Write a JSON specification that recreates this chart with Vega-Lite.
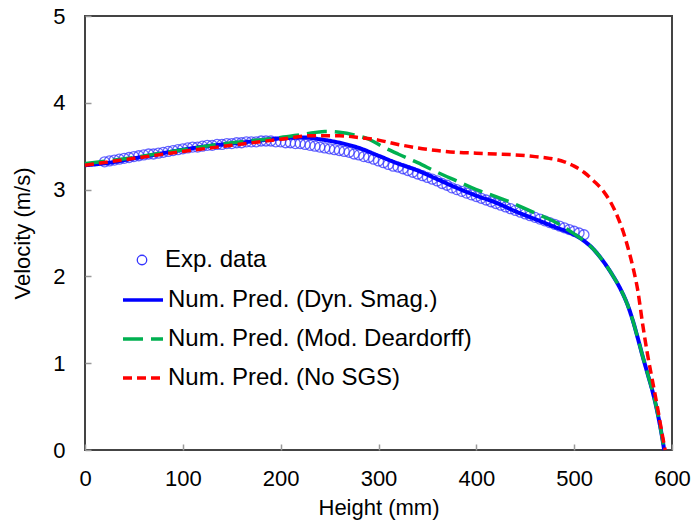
{
  "$schema": "https://vega.github.io/schema/vega-lite/v6.json",
  "width": 587,
  "height": 434,
  "autosize": {"type": "none"},
  "padding": {"left": 85, "top": 16, "right": 25, "bottom": 79},
  "background": "white",
  "config": {
    "font": "Liberation Sans",
    "view": {"stroke": "#444444", "strokeWidth": 2},
    "axis": {
      "grid": false,
      "domain": false,
      "labelFlush": false,
      "tickColor": "#999999",
      "tickWidth": 1.5,
      "tickSize": -6,
      "labelFont": "Liberation Sans",
      "labelFontSize": 22,
      "labelColor": "#000000",
      "titleFont": "Liberation Sans",
      "titleFontSize": 22,
      "titleFontWeight": "normal",
      "titleColor": "#000000"
    },
    "legend": {
      "labelFont": "Liberation Sans",
      "labelFontSize": 24,
      "labelColor": "#000000"
    }
  },
  "datasets": {
    "exp": [
      {"h": 20, "v": 3.32}, {"h": 25, "v": 3.33}, {"h": 30, "v": 3.34}, {"h": 35, "v": 3.35}, {"h": 40, "v": 3.36},
      {"h": 45, "v": 3.37}, {"h": 50, "v": 3.38}, {"h": 55, "v": 3.39}, {"h": 60, "v": 3.40}, {"h": 65, "v": 3.41},
      {"h": 70, "v": 3.41}, {"h": 75, "v": 3.42}, {"h": 80, "v": 3.43}, {"h": 85, "v": 3.44}, {"h": 90, "v": 3.45},
      {"h": 95, "v": 3.46}, {"h": 100, "v": 3.47}, {"h": 105, "v": 3.48}, {"h": 110, "v": 3.49}, {"h": 115, "v": 3.49},
      {"h": 120, "v": 3.50}, {"h": 125, "v": 3.51}, {"h": 130, "v": 3.51}, {"h": 135, "v": 3.52}, {"h": 140, "v": 3.52},
      {"h": 145, "v": 3.53}, {"h": 150, "v": 3.53}, {"h": 155, "v": 3.54}, {"h": 160, "v": 3.54}, {"h": 165, "v": 3.55},
      {"h": 170, "v": 3.55}, {"h": 175, "v": 3.55}, {"h": 180, "v": 3.56}, {"h": 185, "v": 3.56}, {"h": 190, "v": 3.56},
      {"h": 195, "v": 3.55}, {"h": 200, "v": 3.55}, {"h": 205, "v": 3.54}, {"h": 210, "v": 3.54}, {"h": 215, "v": 3.53},
      {"h": 220, "v": 3.53}, {"h": 225, "v": 3.52}, {"h": 230, "v": 3.51}, {"h": 235, "v": 3.50}, {"h": 240, "v": 3.49},
      {"h": 245, "v": 3.48}, {"h": 250, "v": 3.47}, {"h": 255, "v": 3.46}, {"h": 260, "v": 3.45}, {"h": 265, "v": 3.44},
      {"h": 270, "v": 3.43}, {"h": 275, "v": 3.41}, {"h": 280, "v": 3.40}, {"h": 285, "v": 3.38}, {"h": 290, "v": 3.37},
      {"h": 295, "v": 3.35}, {"h": 300, "v": 3.33}, {"h": 305, "v": 3.31}, {"h": 310, "v": 3.29}, {"h": 315, "v": 3.27},
      {"h": 320, "v": 3.26}, {"h": 325, "v": 3.24}, {"h": 330, "v": 3.22}, {"h": 335, "v": 3.20}, {"h": 340, "v": 3.18},
      {"h": 345, "v": 3.16}, {"h": 350, "v": 3.14}, {"h": 355, "v": 3.12}, {"h": 360, "v": 3.10}, {"h": 365, "v": 3.07},
      {"h": 370, "v": 3.05}, {"h": 375, "v": 3.02}, {"h": 380, "v": 3.00}, {"h": 385, "v": 2.98}, {"h": 390, "v": 2.96},
      {"h": 395, "v": 2.94}, {"h": 400, "v": 2.92}, {"h": 405, "v": 2.90}, {"h": 410, "v": 2.88}, {"h": 415, "v": 2.86},
      {"h": 420, "v": 2.84}, {"h": 425, "v": 2.82}, {"h": 430, "v": 2.80}, {"h": 435, "v": 2.78}, {"h": 440, "v": 2.76},
      {"h": 445, "v": 2.74}, {"h": 450, "v": 2.72}, {"h": 455, "v": 2.70}, {"h": 460, "v": 2.68}, {"h": 465, "v": 2.66},
      {"h": 470, "v": 2.64}, {"h": 475, "v": 2.62}, {"h": 480, "v": 2.60}, {"h": 485, "v": 2.58}, {"h": 490, "v": 2.56},
      {"h": 495, "v": 2.54}, {"h": 500, "v": 2.52}, {"h": 505, "v": 2.50}, {"h": 510, "v": 2.48}
    ],
    "dyn": [
      {"h": 0, "v": 3.28}, {"h": 25, "v": 3.31}, {"h": 50, "v": 3.36}, {"h": 75, "v": 3.41}, {"h": 100, "v": 3.46},
      {"h": 125, "v": 3.50}, {"h": 150, "v": 3.53}, {"h": 175, "v": 3.56}, {"h": 200, "v": 3.59}, {"h": 225, "v": 3.60},
      {"h": 240, "v": 3.58}, {"h": 260, "v": 3.54}, {"h": 280, "v": 3.48}, {"h": 300, "v": 3.39}, {"h": 320, "v": 3.30},
      {"h": 340, "v": 3.22}, {"h": 360, "v": 3.12}, {"h": 380, "v": 3.02}, {"h": 400, "v": 2.93}, {"h": 420, "v": 2.85},
      {"h": 440, "v": 2.75}, {"h": 460, "v": 2.66}, {"h": 480, "v": 2.57}, {"h": 500, "v": 2.48}, {"h": 510, "v": 2.41},
      {"h": 520, "v": 2.31}, {"h": 530, "v": 2.17}, {"h": 540, "v": 2.00}, {"h": 548, "v": 1.84}, {"h": 555, "v": 1.66},
      {"h": 560, "v": 1.49}, {"h": 565, "v": 1.29}, {"h": 570, "v": 1.08}, {"h": 575, "v": 0.88}, {"h": 580, "v": 0.68},
      {"h": 585, "v": 0.44}, {"h": 590, "v": 0.14}, {"h": 592, "v": 0}
    ],
    "mod": [
      {"h": 0, "v": 3.30}, {"h": 50, "v": 3.37}, {"h": 100, "v": 3.46}, {"h": 150, "v": 3.54}, {"h": 200, "v": 3.60},
      {"h": 225, "v": 3.64}, {"h": 245, "v": 3.67}, {"h": 260, "v": 3.66}, {"h": 275, "v": 3.63}, {"h": 290, "v": 3.58},
      {"h": 305, "v": 3.49}, {"h": 320, "v": 3.41}, {"h": 340, "v": 3.31}, {"h": 360, "v": 3.20}, {"h": 380, "v": 3.10},
      {"h": 400, "v": 3.00}, {"h": 420, "v": 2.92}, {"h": 440, "v": 2.83}, {"h": 460, "v": 2.73}, {"h": 480, "v": 2.63},
      {"h": 500, "v": 2.49}, {"h": 510, "v": 2.41}, {"h": 520, "v": 2.31}, {"h": 530, "v": 2.17}, {"h": 540, "v": 2.00},
      {"h": 548, "v": 1.84}, {"h": 555, "v": 1.66}, {"h": 560, "v": 1.49}, {"h": 565, "v": 1.29}, {"h": 570, "v": 1.08},
      {"h": 575, "v": 0.88}, {"h": 580, "v": 0.68}, {"h": 585, "v": 0.44}, {"h": 590, "v": 0.14}, {"h": 592, "v": 0}
    ],
    "nosgs": [
      {"h": 0, "v": 3.28}, {"h": 50, "v": 3.36}, {"h": 100, "v": 3.44}, {"h": 150, "v": 3.51}, {"h": 200, "v": 3.58},
      {"h": 230, "v": 3.62}, {"h": 260, "v": 3.62}, {"h": 280, "v": 3.60}, {"h": 300, "v": 3.57}, {"h": 320, "v": 3.52},
      {"h": 340, "v": 3.48}, {"h": 360, "v": 3.45}, {"h": 380, "v": 3.43}, {"h": 400, "v": 3.42}, {"h": 420, "v": 3.41},
      {"h": 440, "v": 3.40}, {"h": 460, "v": 3.38}, {"h": 475, "v": 3.36}, {"h": 490, "v": 3.32}, {"h": 500, "v": 3.27},
      {"h": 510, "v": 3.20}, {"h": 520, "v": 3.10}, {"h": 530, "v": 2.98}, {"h": 538, "v": 2.84}, {"h": 545, "v": 2.67},
      {"h": 550, "v": 2.52}, {"h": 555, "v": 2.33}, {"h": 560, "v": 2.11}, {"h": 565, "v": 1.84}, {"h": 570, "v": 1.45},
      {"h": 575, "v": 1.10}, {"h": 580, "v": 0.80}, {"h": 585, "v": 0.50}, {"h": 590, "v": 0.18}, {"h": 593, "v": 0}
    ]
  },
  "encoding": {
    "x": {
      "field": "h", "type": "quantitative",
      "scale": {"domain": [0, 600], "nice": false, "zero": false},
      "axis": {"title": "Height  (mm)", "values": [0, 100, 200, 300, 400, 500, 600], "labelPadding": 24, "titlePadding": 8}
    },
    "y": {
      "field": "v", "type": "quantitative",
      "scale": {"domain": [0, 5], "nice": false},
      "axis": {"title": "Velocity (m/s)", "values": [0, 1, 2, 3, 4, 5], "labelPadding": 26, "titlePadding": 18}
    }
  },
  "layer": [
    {
      "data": {"name": "exp"},
      "transform": [{"calculate": "'Exp. data'", "as": "s"}],
      "mark": {"type": "point", "filled": false, "color": "#3434ff", "size": 100, "strokeWidth": 1.3, "opacity": 0.75},
      "encoding": {
        "shape": {
          "field": "s", "type": "nominal",
          "scale": {"domain": ["Exp. data"], "range": ["circle"]},
          "legend": {"title": null, "orient": "none", "legendX": 45, "legendY": 232, "symbolSize": 90, "symbolStrokeWidth": 1.3, "symbolOpacity": 1, "labelOffset": 11, "padding": 0, "labelLimit": 500}
        }
      }
    },
    {
      "data": {"name": "dyn"},
      "transform": [{"calculate": "'Num. Pred. (Dyn. Smag.)'", "as": "s"}],
      "mark": {"type": "line", "interpolate": "monotone", "strokeWidth": 4},
      "encoding": {
        "color": {
          "field": "s", "type": "nominal",
          "scale": {
            "domain": ["Num. Pred. (Dyn. Smag.)", "Num. Pred. (Mod. Deardorff)", "Num. Pred. (No SGS)"],
            "range": ["#0000ff", "#00b050", "#ff0000"]
          },
          "legend": {"title": null, "orient": "none", "legendX": 36, "legendY": 262, "symbolSize": 1600, "symbolStrokeWidth": 3.7, "labelOffset": 3, "rowPadding": 5, "padding": 0, "labelLimit": 500}
        },
        "strokeDash": {
          "field": "s", "type": "nominal",
          "scale": {
            "domain": ["Num. Pred. (Dyn. Smag.)", "Num. Pred. (Mod. Deardorff)", "Num. Pred. (No SGS)"],
            "range": [[1, 0], [20, 8], [9, 5]]
          },
          "legend": {"title": null, "orient": "none", "legendX": 36, "legendY": 262, "symbolSize": 1600, "symbolStrokeWidth": 3.7, "labelOffset": 3, "rowPadding": 5, "padding": 0, "labelLimit": 500}
        }
      }
    },
    {
      "data": {"name": "mod"},
      "transform": [{"calculate": "'Num. Pred. (Mod. Deardorff)'", "as": "s"}],
      "mark": {"type": "line", "interpolate": "monotone", "strokeWidth": 3.5},
      "encoding": {"color": {"field": "s", "type": "nominal"}, "strokeDash": {"field": "s", "type": "nominal"}}
    },
    {
      "data": {"name": "nosgs"},
      "transform": [{"calculate": "'Num. Pred. (No SGS)'", "as": "s"}],
      "mark": {"type": "line", "interpolate": "monotone", "strokeWidth": 3.5},
      "encoding": {"color": {"field": "s", "type": "nominal"}, "strokeDash": {"field": "s", "type": "nominal"}}
    }
  ]
}
